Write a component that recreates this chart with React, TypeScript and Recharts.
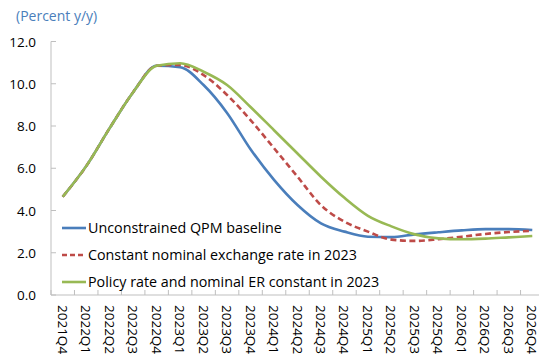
import React from 'react';
import { LineChart, Line, XAxis, YAxis } from 'recharts';

const categories = [
  '2021Q4', '2022Q1', '2022Q2', '2022Q3', '2022Q4', '2023Q1', '2023Q2', '2023Q3', '2023Q4',
  '2024Q1', '2024Q2', '2024Q3', '2024Q4', '2025Q1', '2025Q2', '2025Q3', '2025Q4',
  '2026Q1', '2026Q2', '2026Q3', '2026Q4',
];
const baseline = [4.65, 6.1, 7.9, 9.6, 10.85, 10.78, 9.94, 8.62, 6.9, 5.45, 4.26, 3.39, 3.0, 2.76, 2.74, 2.87, 2.97, 3.06, 3.12, 3.12, 3.08];
const constantER = [4.65, 6.1, 7.9, 9.6, 10.85, 10.89, 10.41, 9.47, 8.28, 6.95, 5.6, 4.25, 3.47, 3.0, 2.62, 2.56, 2.64, 2.76, 2.89, 2.98, 3.04];
const policyAndER = [4.65, 6.1, 7.9, 9.6, 10.85, 10.97, 10.57, 9.94, 8.9, 7.8, 6.7, 5.6, 4.6, 3.75, 3.25, 2.87, 2.68, 2.64, 2.67, 2.73, 2.79];
const yTicks = [0, 2, 4, 6, 8, 10, 12];

const seriesNames = [
  'Unconstrained QPM baseline',
  'Constant nominal exchange rate in 2023',
  'Policy rate and nominal ER constant in 2023',
];
const seriesColors = ['#4A7EBB', '#BE4B48', '#98B954'];
const seriesDash = ['', '6 3.5', ''];
const title = '(Percent y/y)';

const data = categories.map((c, i) => ({
  cat: c,
  s0: baseline[i],
  s1: constantER[i],
  s2: policyAndER[i],
}));

const FONT = '"Open Sans", sans-serif';
const AXIS_X = 51;
const HALF_BAND = 11.72;

const YTick = (props: any) => {
  const { y, payload } = props;
  return (
    <g>
      <line x1={AXIS_X} x2={AXIS_X + 5} y1={y} y2={y} stroke="#BFBFBF" strokeWidth={1} />
      <text x={36} y={y} textAnchor="end" dominantBaseline="central" fontFamily={FONT} fontSize={13.5} fill="#000">
        {Number(payload.value).toFixed(1)}
      </text>
    </g>
  );
};

const XTick = (props: any) => {
  const { x, payload, index } = props;
  const top = 295;
  return (
    <g>
      <line x1={x - HALF_BAND} x2={x - HALF_BAND} y1={top - 5} y2={top} stroke="#BFBFBF" strokeWidth={1} />
      {index === categories.length - 1 && (
        <line x1={x + HALF_BAND} x2={x + HALF_BAND} y1={top - 5} y2={top} stroke="#BFBFBF" strokeWidth={1} />
      )}
      <text
        x={x}
        y={top + 10}
        transform={`rotate(90, ${x}, ${top + 10})`}
        textAnchor="start"
        dominantBaseline="central"
        fontFamily={FONT}
        fontSize={13.5}
        fill="#000"
      >
        {payload.value}
      </text>
    </g>
  );
};

export default function App() {
  return (
    <div style={{ position: 'absolute', left: 0, top: 0, width: 539, height: 356, overflow: 'hidden', background: '#fff' }}>
      <div style={{ position: 'absolute', left: 16, top: 6, fontFamily: FONT, fontSize: 14, color: '#4A7EBB', whiteSpace: 'nowrap' }}>
        {title}
      </div>
      <LineChart width={544} height={356} data={data} margin={{ top: 41.5, right: 0, bottom: 0, left: 0 }}>
        <XAxis
          dataKey="cat"
          xAxisId="top"
          orientation="top"
          height={0}
          tick={false}
          tickLine={false}
          axisLine={{ stroke: '#D9D9D9' }}
        />
        <XAxis
          dataKey="cat"
          height={61}
          interval={0}
          padding={{ left: HALF_BAND, right: HALF_BAND }}
          tickLine={false}
          axisLine={{ stroke: '#BFBFBF' }}
          tick={<XTick />}
        />
        <YAxis
          width={AXIS_X}
          domain={[0, 12]}
          ticks={yTicks}
          interval={0}
          tickLine={false}
          axisLine={{ stroke: '#BFBFBF' }}
          tick={<YTick />}
        />
        {['s0', 's1', 's2'].map((k, i) => (
          <Line
            key={k}
            dataKey={k}
            name={seriesNames[i]}
            type="monotone"
            stroke={seriesColors[i]}
            strokeWidth={2.6}
            strokeDasharray={seriesDash[i] || undefined}
            dot={false}
            activeDot={false}
            isAnimationActive={false}
          />
        ))}
      </LineChart>
      <div style={{ position: 'absolute', left: 62, top: 214, fontFamily: FONT, fontSize: 14.3, color: '#000' }}>
        {seriesNames.map((n, i) => (
          <div key={n} style={{ display: 'flex', alignItems: 'center', height: 27, whiteSpace: 'nowrap' }}>
            <svg width={25} height={6} style={{ marginRight: 1 }}>
              <line x1={0} x2={24} y1={3} y2={3} stroke={seriesColors[i]} strokeWidth={2.6} strokeDasharray={seriesDash[i] ? '5 3' : undefined} />
            </svg>
            <span>{n}</span>
          </div>
        ))}
      </div>
    </div>
  );
}
